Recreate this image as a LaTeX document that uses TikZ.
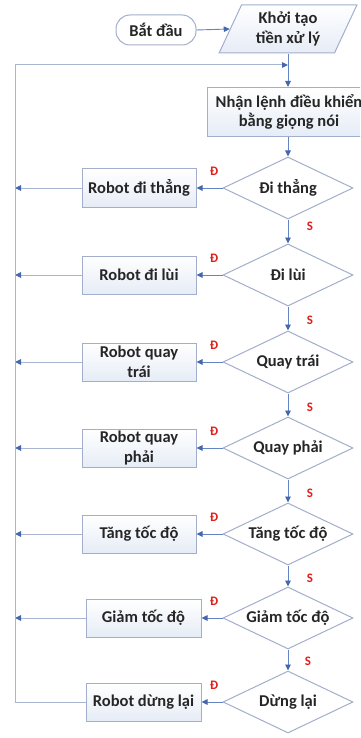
\documentclass[tikz,border=0pt]{standalone}
\usepackage{fontspec}
\setmainfont{Carlito}
\usetikzlibrary{shapes.geometric,arrows.meta}
\definecolor{lineblue}{HTML}{6584C2}
\definecolor{headblue}{HTML}{4467AE}
\definecolor{loopc}{HTML}{A9B5D3}
\definecolor{boxborder}{HTML}{A2AECB}
\definecolor{boxfill}{HTML}{E6ECF6}
\definecolor{txt}{HTML}{262626}
\definecolor{lblred}{HTML}{E0201B}
\begin{document}
\begin{tikzpicture}[x=1pt,y=-1pt,
  every node/.style={font=\fontsize{16.5}{19.5}\selectfont\bfseries, text=txt},
  actbox/.style={draw=boxborder, line width=1pt, top color=white, bottom color=boxfill, rectangle, minimum width=114, minimum height=38, align=center, inner sep=1pt},
  decis/.style={draw=boxborder, line width=1pt, fill=white, diamond, aspect=2.1, minimum width=130, minimum height=62, inner sep=0pt},
  startbox/.style={draw=boxborder, line width=1pt, fill=white, rectangle, rounded corners=14pt, minimum width=80, minimum height=30},
  iobox/.style={draw=boxborder, line width=1pt, top color=white, bottom color=boxfill, trapezium, trapezium left angle=66, trapezium right angle=114, trapezium stretches=true, minimum width=139, minimum height=48, align=center, inner sep=1pt},
  tip/.style={-{Triangle[length=6pt,width=5.5pt,color=headblue]}},
  conn/.style={draw=lineblue, line width=0.9pt, tip},
  loopline/.style={draw=loopc, line width=1pt},
  looparrow/.style={loopline, tip},
  lbl/.style={font=\fontsize{13}{14}\selectfont\bfseries, text=lblred, inner sep=0pt}
]
\useasboundingbox (0,0) rectangle (360,738);
\clip (0,0) rectangle (360,738);

\node[startbox] (start) at (156,30) {Bắt đầu};
\node[iobox] (init) at (288,29) {Khởi tạo\\tiền xử lý};
\node[actbox, minimum width=164, minimum height=49] (cmd) at (289,112) {Nhận lệnh điều khiển\\bằng giọng nói};

\node[decis] (q1) at (288,188) {Đi thẳng};
\node[decis] (q2) at (288,275) {Đi lùi};
\node[decis] (q3) at (288,362) {Quay trái};
\node[decis] (q4) at (288,448) {Quay phải};
\node[decis] (q5) at (288,534) {Tăng tốc độ};
\node[decis] (q6) at (288,618) {Giảm tốc độ};
\node[decis] (q7) at (288,702) {Dừng lại};

\node[actbox] (b1) at (139,188) {Robot đi thẳng};
\node[actbox] (b2) at (139,275) {Robot đi lùi};
\node[actbox] (b3) at (139,362) {Robot quay\\trái};
\node[actbox] (b4) at (139,448) {Robot quay\\phải};
\node[actbox] (b5) at (139,534) {Tăng tốc độ};
\node[actbox, minimum width=115] (b6) at (143.5,618) {Giảm tốc độ};
\node[actbox, minimum width=115] (b7) at (143.5,702) {Robot dừng lại};

\coordinate (lp) at (15,65);
\coordinate (jn) at (288,65);

\draw[conn] (start.east) -- (init.west);
\draw[conn] (init.south) -- (cmd.north -| init.south);
\draw[conn] (cmd.south -| q1.north) -- (q1.north);
\draw[conn] (q1.south) -- (q2.north);
\draw[conn] (q2.south) -- (q3.north);
\draw[conn] (q3.south) -- (q4.north);
\draw[conn] (q4.south) -- (q5.north);
\draw[conn] (q5.south) -- (q6.north);
\draw[conn] (q6.south) -- (q7.north);

\foreach \i in {1,...,7} {
  \draw[conn] (q\i.west) -- (b\i.east);
}
\foreach \i in {1,...,6} {
  \draw[looparrow] (b\i.west) -- (b\i.west -| lp);
}
\draw[loopline] (b7.west) -| (lp);
\draw[looparrow] (lp) -- (jn);

\foreach \i in {1,...,7} {
  \node[lbl] (d\i) at ([shift={(-74,-17)}]q\i.center) {Đ};
}
\node[lbl] (s1) at (310,226) {S};
\node[lbl] (s2) at (310,320) {S};
\node[lbl] (s3) at (310,407) {S};
\node[lbl] (s4) at (310,493) {S};
\node[lbl] (s5) at (310,578) {S};
\node[lbl] (s6) at (308,661) {S};
\end{tikzpicture}
\end{document}
